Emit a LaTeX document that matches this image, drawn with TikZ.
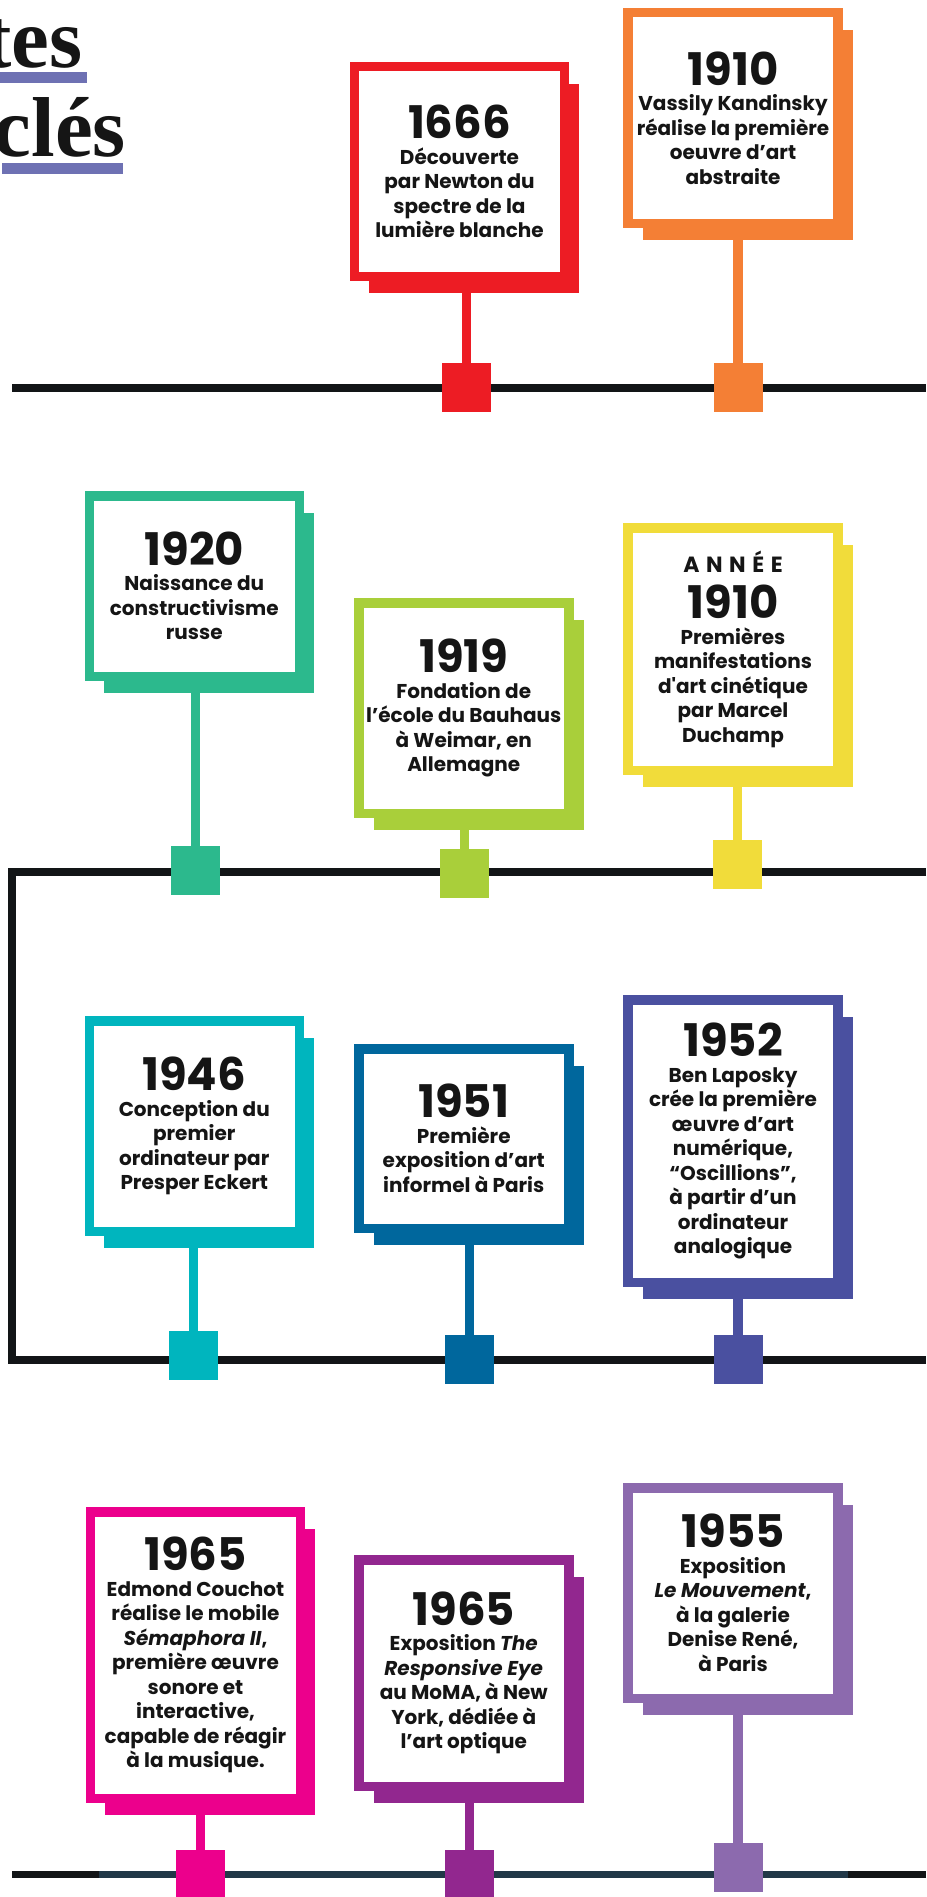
\documentclass[tikz,border=0pt]{standalone}
\usepackage{fontspec}
\setmainfont{Poppins}
\newfontfamily\titleserif{Liberation Serif}
\usetikzlibrary{calc,shadows}
\definecolor{cred}{HTML}{ED1C24}
\definecolor{corange}{HTML}{F47F35}
\definecolor{cgreen}{HTML}{2CB98D}
\definecolor{clime}{HTML}{A9CF3A}
\definecolor{cyellow}{HTML}{F1DC3A}
\definecolor{ccyan}{HTML}{00B5BE}
\definecolor{cblue}{HTML}{00679D}
\definecolor{cindigo}{HTML}{4A50A0}
\definecolor{cpink}{HTML}{EC008C}
\definecolor{cpurple}{HTML}{92278F}
\definecolor{clavender}{HTML}{8C6AAE}
\definecolor{tline}{HTML}{121517}
\definecolor{tslate}{HTML}{213848}
\definecolor{cunder}{HTML}{6E71B3}
\definecolor{ink}{HTML}{151515}
\newcommand\yearline[1]{{\fontsize{45}{45}\selectfont #1}\\[1pt]}

\begin{document}
\begin{tikzpicture}[x=1pt, y=-1pt,
  card/.style={draw=#1, fill=white, line width=9.5pt, minimum width=210pt,
    inner sep=0pt, align=center, text=ink,
    font=\bfseries\fontsize{20}{24.5}\selectfont,
    general shadow={fill=#1, shadow xshift=14.75pt, shadow yshift=-17pt}},
  yearsq/.style={fill=#1, minimum size=49pt, inner sep=0pt},
  cardstem/.style={draw=#1, line width=9.5pt},
  timeline/.style={draw=tline, line width=7.5pt},
  titletext/.style={inner sep=0pt, anchor=base east, text=ink,
    font=\titleserif\bfseries\fontsize{85}{85}\selectfont}]
  \useasboundingbox (0,0) rectangle (926,1897);
  \clip (0,0) rectangle (926,1897);

  % title, cut at the left edge
  \node[titletext] (tA) at (83,68) {tes};
  \node[titletext] (tB) at (126,157) {clés};
  \fill[cunder] (0,72) rectangle (87,83);
  \fill[cunder] (2,163) rectangle (123,174);

  % timelines
  \draw[timeline] (12,388) -- (926,388);
  \draw[timeline, line join=miter] (926,872) -- (12,872) -- (12,1360) -- (926,1360);
  \draw[timeline] (12,1874.5) -- (926,1874.5);
  \draw[timeline, draw=tslate] (99,1874.5) -- (848,1874.5);

  % cards: name/colour/x/y/height/square x/square y/text
  \foreach \n/\c/\x/\y/\h/\sx/\sy/\txt in {
    a/cred/459.5/171.5/219/466.5/387.5/{\yearline{1666}Découverte\\par Newton du\\spectre de la\\lumière blanche},
    b/corange/733/118/220/738/387.5/{\yearline{1910}Vassily Kandinsky\\réalise la première\\oeuvre d’art\\abstraite},
    c/cgreen/194.25/586/190/195.5/870.5/{\yearline{1920}Naissance du\\constructivisme\\russe},
    d/clime/463.75/708/220/464.5/873.5/{\yearline{1919}Fondation de\\l’école du Bauhaus\\à Weimar, en\\Allemagne},
    e/cyellow/733/649/252/737.5/864.5/{{\fontsize{22}{22}\selectfont\addfontfeature{LetterSpace=30}ANNÉE}\\[12pt]\yearline{1910}Premières\\manifestations\\d\textquotesingle art cinétique\\par Marcel\\Duchamp},
    f/ccyan/194.25/1126/220/193.5/1355.5/{\yearline{1946}Conception du\\premier\\ordinateur par\\Presper Eckert},
    g/cblue/463.75/1138.5/189/469.5/1359.5/{\yearline{1951}Première\\exposition d’art\\informel à Paris},
    h/cindigo/733/1141/292/738/1359.5/{\yearline{1952}Ben Laposky\\crée la première\\œuvre d’art\\numérique,\\“Oscillions”,\\à partir d’un\\ordinateur\\analogique},
    i/cpink/195.5/1655/296/200.5/1874.5/{\yearline{1965}Edmond Couchot\\réalise le mobile\\\textit{Sémaphora II},\\première œuvre\\sonore et\\interactive,\\capable de réagir\\à la musique.},
    j/cpurple/463.75/1673/236/469.5/1874.5/{\yearline{1965}Exposition \textit{The}\\\textit{Responsive Eye}\\au MoMA, à New\\York, dédiée à\\l’art optique},
    k/clavender/733/1593/220/738/1867.5/{\yearline{1955}Exposition\\\textit{Le Mouvement},\\à la galerie\\Denise René,\\à Paris}}{
    \node[card=\c, minimum height=\h-9.5] (f\n) at (\x,\y) {\txt};
    \coordinate (b\n) at ($(f\n.south)+(0,11)$);
    \node[yearsq=\c] (s\n) at (\sx,\sy) {};
    \draw[cardstem=\c] (s\n.center) -- (s\n.center |- b\n);}
\end{tikzpicture}
\end{document}
